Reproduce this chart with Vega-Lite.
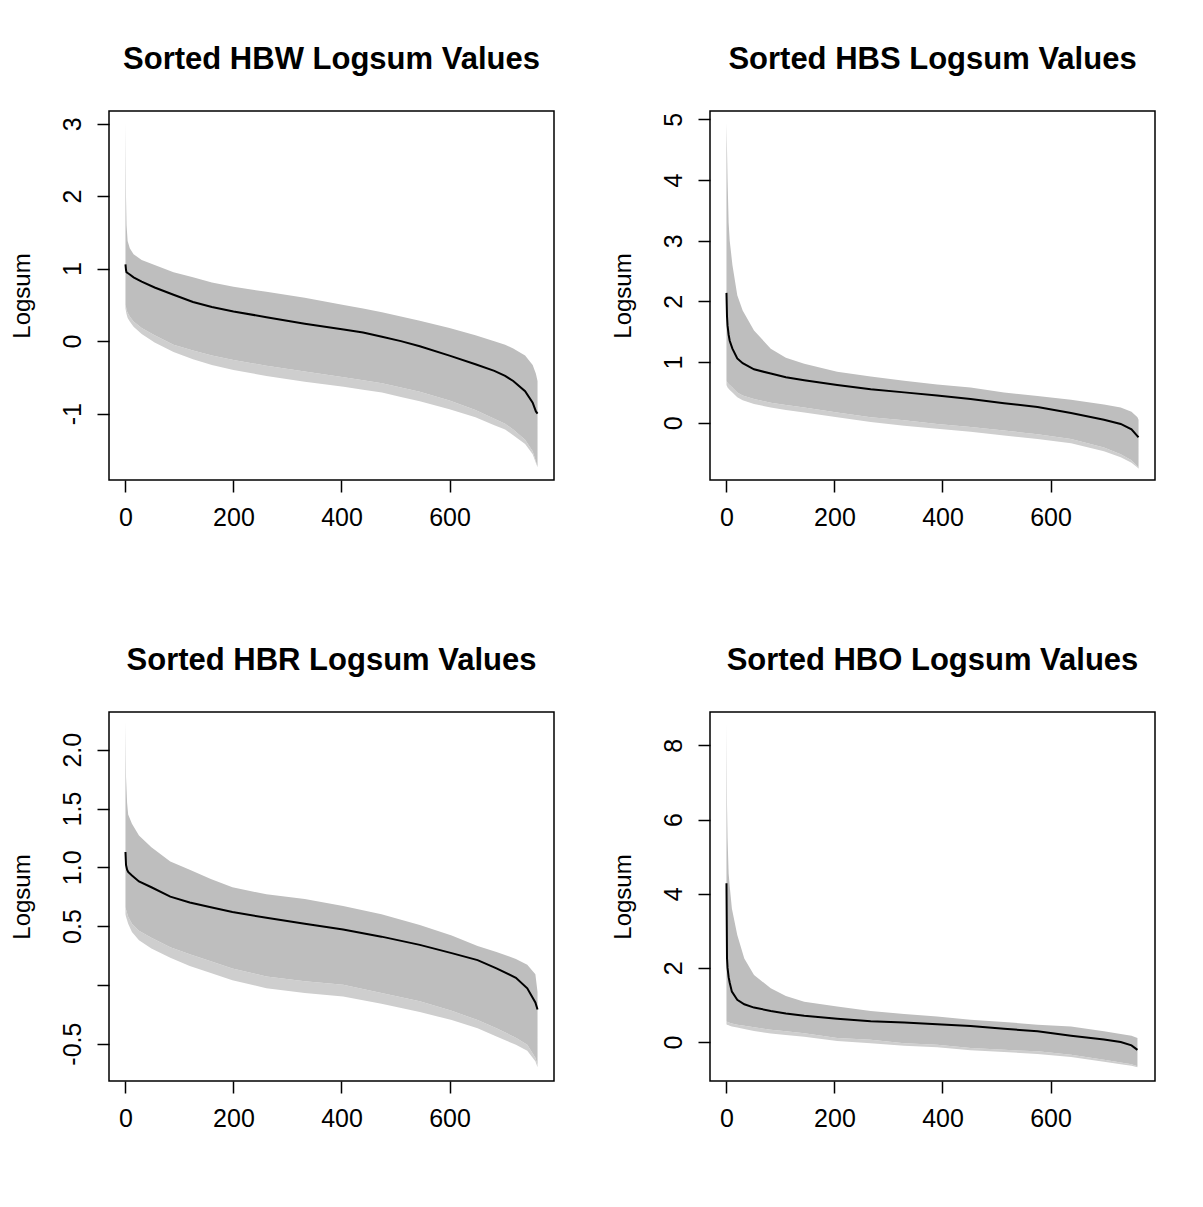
{
  "$schema": "https://vega.github.io/schema/vega-lite/v6.json",
  "background": "white",
  "padding": {"left": 9, "top": 43, "right": 5, "bottom": 5},
  "columns": 2,
  "spacing": {"row": 232, "column": 156},
  "bounds": "flush",
  "config": {
    "locale": {"number": {"decimal": ".", "thousands": ",", "grouping": [3], "currency": ["$", ""], "minus": "-"}},
    "view": {"stroke": "#000", "strokeWidth": 1.5},
    "axis": {"domain": false, "grid": false, "ticks": true, "tickColor": "#000", "tickSize": 12, "tickWidth": 1.5, "labelFont": "Liberation Sans", "labelFontSize": 25, "labelColor": "#000", "labelOverlap": false, "labelFlush": false, "titleFont": "Liberation Sans", "titleFontSize": 24, "titleFontWeight": "normal", "titleColor": "#000"},
    "axisX": {"labelPadding": 13},
    "axisY": {"labelAngle": 270, "labelAlign": "center", "labelBaseline": "bottom", "labelPadding": 12, "titlePadding": 26},
    "title": {"font": "Liberation Sans", "fontSize": 31, "fontWeight": "bold", "color": "#000", "offset": 35, "baseline": "alphabetic", "anchor": "middle", "frame": "group"}
  },
  "data": {"values": [
    {"panel": "HBW", "x": 0, "hi": 3.02, "lo": 0.50, "lo2": 0.45, "med": 1.06},
    {"panel": "HBW", "x": 1, "hi": 1.98, "lo": 0.47, "lo2": 0.41, "med": 0.98},
    {"panel": "HBW", "x": 2, "hi": 1.60, "lo": 0.43, "lo2": 0.37, "med": 0.95},
    {"panel": "HBW", "x": 4, "hi": 1.38, "lo": 0.39, "lo2": 0.32, "med": 0.94},
    {"panel": "HBW", "x": 8, "hi": 1.28, "lo": 0.34, "lo2": 0.27, "med": 0.92},
    {"panel": "HBW", "x": 15, "hi": 1.20, "lo": 0.27, "lo2": 0.20, "med": 0.88},
    {"panel": "HBW", "x": 30, "hi": 1.12, "lo": 0.18, "lo2": 0.10, "med": 0.82},
    {"panel": "HBW", "x": 54, "hi": 1.05, "lo": 0.08, "lo2": -0.02, "med": 0.74},
    {"panel": "HBW", "x": 89, "hi": 0.95, "lo": -0.05, "lo2": -0.15, "med": 0.64},
    {"panel": "HBW", "x": 125, "hi": 0.88, "lo": -0.13, "lo2": -0.25, "med": 0.54},
    {"panel": "HBW", "x": 160, "hi": 0.81, "lo": -0.20, "lo2": -0.33, "med": 0.47},
    {"panel": "HBW", "x": 200, "hi": 0.75, "lo": -0.26, "lo2": -0.40, "med": 0.41},
    {"panel": "HBW", "x": 261, "hi": 0.68, "lo": -0.34, "lo2": -0.48, "med": 0.33},
    {"panel": "HBW", "x": 332, "hi": 0.60, "lo": -0.42, "lo2": -0.56, "med": 0.24},
    {"panel": "HBW", "x": 404, "hi": 0.50, "lo": -0.50, "lo2": -0.63, "med": 0.16},
    {"panel": "HBW", "x": 440, "hi": 0.45, "lo": -0.54, "lo2": -0.67, "med": 0.12},
    {"panel": "HBW", "x": 475, "hi": 0.40, "lo": -0.58, "lo2": -0.71, "med": 0.06},
    {"panel": "HBW", "x": 510, "hi": 0.34, "lo": -0.64, "lo2": -0.77, "med": 0.00},
    {"panel": "HBW", "x": 545, "hi": 0.28, "lo": -0.70, "lo2": -0.83, "med": -0.07},
    {"panel": "HBW", "x": 600, "hi": 0.18, "lo": -0.82, "lo2": -0.94, "med": -0.20},
    {"panel": "HBW", "x": 648, "hi": 0.08, "lo": -0.95, "lo2": -1.05, "med": -0.32},
    {"panel": "HBW", "x": 683, "hi": 0.00, "lo": -1.07, "lo2": -1.16, "med": -0.41},
    {"panel": "HBW", "x": 703, "hi": -0.05, "lo": -1.14, "lo2": -1.22, "med": -0.48},
    {"panel": "HBW", "x": 718, "hi": -0.10, "lo": -1.22, "lo2": -1.30, "med": -0.55},
    {"panel": "HBW", "x": 740, "hi": -0.20, "lo": -1.36, "lo2": -1.42, "med": -0.69},
    {"panel": "HBW", "x": 754, "hi": -0.33, "lo": -1.52, "lo2": -1.56, "med": -0.85},
    {"panel": "HBW", "x": 760, "hi": -0.45, "lo": -1.66, "lo2": -1.68, "med": -0.97},
    {"panel": "HBW", "x": 763, "hi": -0.55, "lo": -1.73, "lo2": -1.74, "med": -1.00},

    {"panel": "HBS", "x": 0, "hi": 4.94, "lo": 0.69, "lo2": 0.62, "med": 2.14},
    {"panel": "HBS", "x": 1, "hi": 4.50, "lo": 0.67, "lo2": 0.60, "med": 1.75},
    {"panel": "HBS", "x": 2, "hi": 4.01, "lo": 0.66, "lo2": 0.58, "med": 1.60},
    {"panel": "HBS", "x": 4, "hi": 3.30, "lo": 0.64, "lo2": 0.56, "med": 1.45},
    {"panel": "HBS", "x": 6, "hi": 3.00, "lo": 0.62, "lo2": 0.54, "med": 1.35},
    {"panel": "HBS", "x": 11, "hi": 2.60, "lo": 0.58, "lo2": 0.50, "med": 1.22},
    {"panel": "HBS", "x": 20, "hi": 2.10, "lo": 0.50, "lo2": 0.42, "med": 1.06},
    {"panel": "HBS", "x": 30, "hi": 1.85, "lo": 0.45, "lo2": 0.37, "med": 0.98},
    {"panel": "HBS", "x": 51, "hi": 1.52, "lo": 0.39, "lo2": 0.31, "med": 0.88},
    {"panel": "HBS", "x": 82, "hi": 1.22, "lo": 0.33, "lo2": 0.25, "med": 0.81},
    {"panel": "HBS", "x": 110, "hi": 1.07, "lo": 0.29, "lo2": 0.21, "med": 0.75},
    {"panel": "HBS", "x": 144, "hi": 0.97, "lo": 0.25, "lo2": 0.17, "med": 0.70},
    {"panel": "HBS", "x": 205, "hi": 0.84, "lo": 0.17, "lo2": 0.09, "med": 0.62},
    {"panel": "HBS", "x": 267, "hi": 0.76, "lo": 0.09, "lo2": 0.01, "med": 0.55},
    {"panel": "HBS", "x": 329, "hi": 0.69, "lo": 0.04, "lo2": -0.05, "med": 0.50},
    {"panel": "HBS", "x": 390, "hi": 0.63, "lo": -0.02, "lo2": -0.10, "med": 0.45},
    {"panel": "HBS", "x": 452, "hi": 0.58, "lo": -0.07, "lo2": -0.15, "med": 0.39},
    {"panel": "HBS", "x": 514, "hi": 0.50, "lo": -0.13, "lo2": -0.21, "med": 0.32},
    {"panel": "HBS", "x": 576, "hi": 0.44, "lo": -0.19, "lo2": -0.27, "med": 0.26},
    {"panel": "HBS", "x": 638, "hi": 0.38, "lo": -0.27, "lo2": -0.34, "med": 0.16},
    {"panel": "HBS", "x": 699, "hi": 0.30, "lo": -0.41, "lo2": -0.47, "med": 0.05},
    {"panel": "HBS", "x": 730, "hi": 0.25, "lo": -0.52, "lo2": -0.57, "med": -0.02},
    {"panel": "HBS", "x": 750, "hi": 0.18, "lo": -0.62, "lo2": -0.66, "med": -0.11},
    {"panel": "HBS", "x": 761, "hi": 0.09, "lo": -0.72, "lo2": -0.74, "med": -0.22},
    {"panel": "HBS", "x": 763, "hi": 0.05, "lo": -0.75, "lo2": -0.76, "med": -0.24},

    {"panel": "HBR", "x": 0, "hi": 2.24, "lo": 0.66, "lo2": 0.60, "med": 1.13},
    {"panel": "HBR", "x": 1, "hi": 1.77, "lo": 0.64, "lo2": 0.58, "med": 1.02},
    {"panel": "HBR", "x": 3, "hi": 1.55, "lo": 0.61, "lo2": 0.55, "med": 0.98},
    {"panel": "HBR", "x": 5, "hi": 1.45, "lo": 0.58, "lo2": 0.52, "med": 0.96},
    {"panel": "HBR", "x": 12, "hi": 1.37, "lo": 0.52, "lo2": 0.45, "med": 0.93},
    {"panel": "HBR", "x": 25, "hi": 1.27, "lo": 0.46, "lo2": 0.38, "med": 0.88},
    {"panel": "HBR", "x": 48, "hi": 1.17, "lo": 0.40, "lo2": 0.31, "med": 0.83},
    {"panel": "HBR", "x": 83, "hi": 1.05, "lo": 0.32, "lo2": 0.23, "med": 0.75},
    {"panel": "HBR", "x": 119, "hi": 0.98, "lo": 0.26, "lo2": 0.16, "med": 0.70},
    {"panel": "HBR", "x": 158, "hi": 0.90, "lo": 0.20, "lo2": 0.10, "med": 0.66},
    {"panel": "HBR", "x": 198, "hi": 0.83, "lo": 0.14, "lo2": 0.04, "med": 0.62},
    {"panel": "HBR", "x": 261, "hi": 0.77, "lo": 0.07, "lo2": -0.03, "med": 0.57},
    {"panel": "HBR", "x": 332, "hi": 0.73, "lo": 0.03, "lo2": -0.07, "med": 0.52},
    {"panel": "HBR", "x": 403, "hi": 0.67, "lo": 0.00, "lo2": -0.10, "med": 0.47},
    {"panel": "HBR", "x": 474, "hi": 0.60, "lo": -0.07, "lo2": -0.16, "med": 0.41},
    {"panel": "HBR", "x": 545, "hi": 0.51, "lo": -0.14, "lo2": -0.23, "med": 0.34},
    {"panel": "HBR", "x": 604, "hi": 0.42, "lo": -0.22, "lo2": -0.30, "med": 0.27},
    {"panel": "HBR", "x": 652, "hi": 0.33, "lo": -0.30, "lo2": -0.37, "med": 0.21},
    {"panel": "HBR", "x": 687, "hi": 0.28, "lo": -0.37, "lo2": -0.44, "med": 0.14},
    {"panel": "HBR", "x": 723, "hi": 0.22, "lo": -0.45, "lo2": -0.51, "med": 0.06},
    {"panel": "HBR", "x": 744, "hi": 0.17, "lo": -0.51, "lo2": -0.56, "med": -0.03},
    {"panel": "HBR", "x": 759, "hi": 0.09, "lo": -0.62, "lo2": -0.65, "med": -0.15},
    {"panel": "HBR", "x": 763, "hi": -0.06, "lo": -0.68, "lo2": -0.70, "med": -0.21},

    {"panel": "HBO", "x": 0, "hi": 8.60, "lo": 0.56, "lo2": 0.48, "med": 4.28},
    {"panel": "HBO", "x": 1, "hi": 6.40, "lo": 0.55, "lo2": 0.47, "med": 2.26},
    {"panel": "HBO", "x": 2, "hi": 5.50, "lo": 0.54, "lo2": 0.46, "med": 2.00},
    {"panel": "HBO", "x": 4, "hi": 4.55, "lo": 0.53, "lo2": 0.45, "med": 1.75},
    {"panel": "HBO", "x": 6, "hi": 4.20, "lo": 0.52, "lo2": 0.44, "med": 1.60},
    {"panel": "HBO", "x": 10, "hi": 3.60, "lo": 0.50, "lo2": 0.42, "med": 1.36},
    {"panel": "HBO", "x": 20, "hi": 2.89, "lo": 0.47, "lo2": 0.39, "med": 1.14},
    {"panel": "HBO", "x": 33, "hi": 2.25, "lo": 0.44, "lo2": 0.35, "med": 1.02},
    {"panel": "HBO", "x": 51, "hi": 1.81, "lo": 0.40, "lo2": 0.30, "med": 0.93},
    {"panel": "HBO", "x": 82, "hi": 1.45, "lo": 0.33, "lo2": 0.23, "med": 0.84},
    {"panel": "HBO", "x": 110, "hi": 1.24, "lo": 0.29, "lo2": 0.19, "med": 0.77},
    {"panel": "HBO", "x": 144, "hi": 1.09, "lo": 0.24, "lo2": 0.14, "med": 0.71},
    {"panel": "HBO", "x": 205, "hi": 0.96, "lo": 0.11, "lo2": 0.03, "med": 0.63},
    {"panel": "HBO", "x": 267, "hi": 0.84, "lo": 0.06, "lo2": -0.03, "med": 0.56},
    {"panel": "HBO", "x": 329, "hi": 0.76, "lo": -0.03, "lo2": -0.10, "med": 0.53},
    {"panel": "HBO", "x": 390, "hi": 0.69, "lo": -0.07, "lo2": -0.14, "med": 0.48},
    {"panel": "HBO", "x": 452, "hi": 0.60, "lo": -0.16, "lo2": -0.22, "med": 0.43},
    {"panel": "HBO", "x": 514, "hi": 0.54, "lo": -0.21, "lo2": -0.27, "med": 0.36},
    {"panel": "HBO", "x": 576, "hi": 0.47, "lo": -0.25, "lo2": -0.32, "med": 0.29},
    {"panel": "HBO", "x": 638, "hi": 0.42, "lo": -0.34, "lo2": -0.40, "med": 0.17},
    {"panel": "HBO", "x": 699, "hi": 0.29, "lo": -0.48, "lo2": -0.53, "med": 0.07},
    {"panel": "HBO", "x": 730, "hi": 0.22, "lo": -0.55, "lo2": -0.60, "med": 0.00},
    {"panel": "HBO", "x": 750, "hi": 0.17, "lo": -0.60, "lo2": -0.64, "med": -0.09},
    {"panel": "HBO", "x": 761, "hi": 0.11, "lo": -0.65, "lo2": -0.68, "med": -0.21}
  ]},
  "concat": [
    {
      "title": "Sorted HBW Logsum Values",
      "width": 445, "height": 369,
      "transform": [{"filter": "datum.panel == 'HBW'"}],
      "encoding": {"x": {"field": "x", "type": "quantitative", "scale": {"domain": [-30.5, 793.5], "nice": false, "zero": false}, "axis": {"title": null, "values": [0, 200, 400, 600], "format": "d"}}},
      "layer": [
        {"mark": {"type": "area", "color": "#cecece"}, "encoding": {"y": {"field": "lo", "type": "quantitative", "scale": {"domain": [-1.916, 3.175], "nice": false, "zero": false}, "axis": {"title": "Logsum", "values": [-1, 0, 1, 2, 3], "format": "d"}}, "y2": {"field": "lo2"}}},
        {"mark": {"type": "area", "color": "#bebebe"}, "encoding": {"y": {"field": "hi", "type": "quantitative"}, "y2": {"field": "lo"}}},
        {"mark": {"type": "line", "color": "#000", "strokeWidth": 2}, "encoding": {"y": {"field": "med", "type": "quantitative"}}}
      ]
    },
    {
      "title": "Sorted HBS Logsum Values",
      "width": 445, "height": 369,
      "transform": [{"filter": "datum.panel == 'HBS'"}],
      "encoding": {"x": {"field": "x", "type": "quantitative", "scale": {"domain": [-30.5, 793.5], "nice": false, "zero": false}, "axis": {"title": null, "values": [0, 200, 400, 600], "format": "d"}}},
      "layer": [
        {"mark": {"type": "area", "color": "#cecece"}, "encoding": {"y": {"field": "lo", "type": "quantitative", "scale": {"domain": [-0.944, 5.137], "nice": false, "zero": false}, "axis": {"title": "Logsum", "values": [0, 1, 2, 3, 4, 5], "format": "d"}}, "y2": {"field": "lo2"}}},
        {"mark": {"type": "area", "color": "#bebebe"}, "encoding": {"y": {"field": "hi", "type": "quantitative"}, "y2": {"field": "lo"}}},
        {"mark": {"type": "line", "color": "#000", "strokeWidth": 2}, "encoding": {"y": {"field": "med", "type": "quantitative"}}}
      ]
    },
    {
      "title": "Sorted HBR Logsum Values",
      "width": 445, "height": 369,
      "transform": [{"filter": "datum.panel == 'HBR'"}],
      "encoding": {"x": {"field": "x", "type": "quantitative", "scale": {"domain": [-30.5, 793.5], "nice": false, "zero": false}, "axis": {"title": null, "values": [0, 200, 400, 600], "format": "d"}}},
      "layer": [
        {"mark": {"type": "area", "color": "#cecece"}, "encoding": {"y": {"field": "lo", "type": "quantitative", "scale": {"domain": [-0.818, 2.321], "nice": false, "zero": false}, "axis": {"title": "Logsum", "values": [-0.5, 0, 0.5, 1, 1.5, 2], "format": ".1f", "labelExpr": "datum.value == 0 ? '' : datum.label"}}, "y2": {"field": "lo2"}}},
        {"mark": {"type": "area", "color": "#bebebe"}, "encoding": {"y": {"field": "hi", "type": "quantitative"}, "y2": {"field": "lo"}}},
        {"mark": {"type": "line", "color": "#000", "strokeWidth": 2}, "encoding": {"y": {"field": "med", "type": "quantitative"}}}
      ]
    },
    {
      "title": "Sorted HBO Logsum Values",
      "width": 445, "height": 369,
      "transform": [{"filter": "datum.panel == 'HBO'"}],
      "encoding": {"x": {"field": "x", "type": "quantitative", "scale": {"domain": [-30.5, 793.5], "nice": false, "zero": false}, "axis": {"title": null, "values": [0, 200, 400, 600], "format": "d"}}},
      "layer": [
        {"mark": {"type": "area", "color": "#cecece"}, "encoding": {"y": {"field": "lo", "type": "quantitative", "scale": {"domain": [-1.05, 8.9], "nice": false, "zero": false}, "axis": {"title": "Logsum", "values": [0, 2, 4, 6, 8], "format": "d"}}, "y2": {"field": "lo2"}}},
        {"mark": {"type": "area", "color": "#bebebe"}, "encoding": {"y": {"field": "hi", "type": "quantitative"}, "y2": {"field": "lo"}}},
        {"mark": {"type": "line", "color": "#000", "strokeWidth": 2}, "encoding": {"y": {"field": "med", "type": "quantitative"}}}
      ]
    }
  ]
}
